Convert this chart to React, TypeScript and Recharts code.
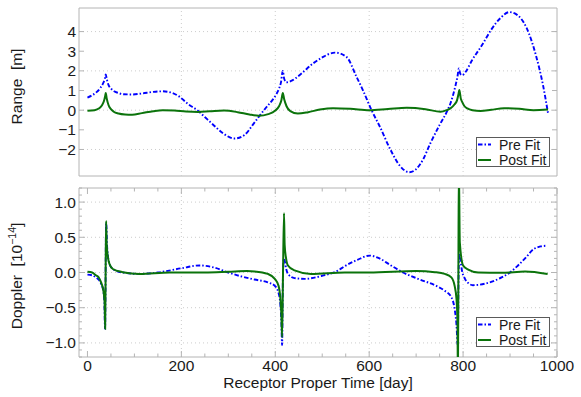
import React from 'react';
import { LineChart, Line, XAxis, YAxis, ReferenceLine, ReferenceArea, Legend } from 'recharts';

// Range residuals [m]
const RANGE_PRE_DAYS = [0, 10, 20, 28, 33, 37, 39, 41, 45, 50, 56, 65, 77, 95, 116, 140, 160, 178, 195, 215, 234, 250, 266, 290, 313, 335, 352, 366, 381, 395, 402, 408, 412, 416, 419, 424, 435, 454, 480, 501, 527, 552, 573, 587, 605, 623, 645, 666, 685, 700, 715, 730, 750, 767, 773, 779, 784, 788, 791, 794, 798, 805, 819, 840, 860, 880, 898, 915, 935, 955, 970, 981];
const RANGE_PRE = [0.64, 0.76, 0.93, 1.15, 1.35, 1.6, 1.82, 1.6, 1.27, 1.1, 0.98, 0.88, 0.81, 0.8, 0.85, 0.93, 0.96, 0.9, 0.7, 0.3, 0.0, -0.35, -0.7, -1.2, -1.44, -1.25, -0.75, -0.3, 0.15, 0.55, 0.8, 1.1, 1.4, 2.0, 1.6, 1.42, 1.5, 1.83, 2.37, 2.7, 2.93, 2.7, 1.7, 1.0, 0.0, -0.85, -2.0, -2.85, -3.16, -3.0, -2.5, -1.7, -0.75, 0.0, 0.34, 0.8, 1.27, 1.7, 2.12, 1.85, 1.78, 1.94, 2.54, 3.3, 4.1, 4.7, 4.99, 4.85, 4.2, 2.8, 1.3, -0.17];
const RANGE_POST_DAYS = [0, 15, 25, 31, 35, 38, 39, 41, 45, 50, 56, 66, 80, 95, 116, 140, 160, 185, 210, 235, 260, 291, 320, 345, 365, 385, 400, 408, 413, 416, 419, 424, 432, 448, 470, 495, 523, 560, 600, 640, 680, 720, 752, 765, 773, 782, 787, 790, 792, 795, 798, 803, 809, 820, 837, 860, 887, 920, 950, 981];
const RANGE_POST = [-0.03, 0.0, 0.1, 0.25, 0.45, 0.75, 0.87, 0.6, 0.25, 0.05, -0.08, -0.17, -0.22, -0.23, -0.15, -0.05, 0.0, -0.02, -0.07, -0.09, -0.06, -0.02, -0.1, -0.22, -0.28, -0.2, -0.02, 0.2, 0.5, 0.88, 0.55, 0.2, -0.05, -0.17, -0.1, 0.03, 0.1, 0.07, 0.0, 0.06, 0.12, 0.05, -0.08, 0.0, 0.09, 0.3, 0.5, 0.8, 1.03, 0.6, 0.42, 0.2, 0.09, 0.0, -0.04, 0.02, 0.1, 0.07, 0.0, 0.03];

// Doppler residuals [1e-14]
const DOPPLER_PRE_DAYS = [0, 10, 18, 25, 29, 32, 34, 36, 37.5, 39.8, 42, 47, 54, 75, 111, 150, 200, 239, 270, 300, 330, 356, 384, 399, 407, 411, 413, 414.5, 416.5, 418.5, 420, 423, 427, 441, 463, 498, 534, 548, 575, 601, 622, 644, 672, 708, 743, 761, 775, 782, 786, 788.5, 790.5, 792, 794, 797, 804, 811, 821, 846, 882, 900, 917, 932, 950, 965, 978];
const DOPPLER_PRE = [-0.03, -0.04, -0.07, -0.11, -0.16, -0.21, -0.27, -0.42, -0.8, 0.7, 0.35, 0.12, 0.05, 0.0, -0.02, 0.0, 0.06, 0.1, 0.07, 0.0, -0.06, -0.1, -0.14, -0.19, -0.29, -0.47, -0.7, -1.03, 0.0, 0.2, 0.17, 0.06, -0.02, -0.08, -0.09, -0.05, 0.03, 0.09, 0.18, 0.24, 0.2, 0.11, 0.0, -0.1, -0.19, -0.26, -0.35, -0.52, -0.75, -1.03, 0.0, 0.27, 0.2, 0.05, -0.09, -0.15, -0.18, -0.16, -0.07, 0.0, 0.1, 0.2, 0.33, 0.37, 0.38];
const DOPPLER_POST_DAYS = [0, 10, 18, 25, 29, 34, 36.5, 37.7, 38.7, 39.8, 41, 44, 47, 54, 75, 111, 175, 250, 300, 340, 356, 384, 399, 407, 411, 413, 414.5, 416.5, 418.6, 420, 423, 427, 441, 476, 548, 600, 700, 740, 761, 775, 782, 786, 788, 789, 790, 791, 793, 800, 811, 832, 882, 932, 980];
const DOPPLER_POST = [0.01, 0.0, -0.04, -0.08, -0.14, -0.26, -0.42, -0.8, 0.0, 0.73, 0.4, 0.2, 0.12, 0.05, 0.005, -0.02, 0.0, 0.0, 0.01, 0.02, 0.015, -0.02, -0.09, -0.19, -0.38, -0.6, -0.92, 0.0, 0.84, 0.39, 0.2, 0.1, 0.03, -0.02, 0.0, 0.0, 0.02, 0.005, -0.02, -0.07, -0.19, -0.38, -0.7, -1.5, 0.0, 1.5, 0.43, 0.1, 0.04, 0.0, -0.005, 0.015, -0.02];

// axes
const X_DOMAIN = [-18, 1000];
const X_TICKS = [0, 50, 100, 150, 200, 250, 300, 350, 400, 450, 500, 550, 600, 650, 700, 750, 800, 850, 900, 950, 1000];
const X_LABELS = [0, 200, 400, 600, 800, 1000];
const X_GRID = [200, 400, 600, 800];

const RANGE_DOMAIN = [-3.35, 5.2];
const RANGE_TICKS = [-2, -1, 0, 1, 2, 3, 4];
const RANGE_GRID = [-2, 0, 2, 4];

const DOPPLER_DOMAIN = [-1.2, 1.2];
const DOPPLER_TICKS = [-1.2, -1.1, -1.0, -0.9, -0.8, -0.7, -0.6, -0.5, -0.4, -0.3, -0.2, -0.1, 0, 0.1, 0.2, 0.3, 0.4, 0.5, 0.6, 0.7, 0.8, 0.9, 1.0, 1.1, 1.2];
const DOPPLER_LABELS = [-1, -0.5, 0, 0.5, 1];
const DOPPLER_GRID = [-1, -0.5, 0, 0.5, 1];

const FONT = '"Liberation Sans", Arial, Helvetica, sans-serif';
const BLUE = '#0000ff';
const GREEN = '#0b730b';
const FRAME = '#b4b4b4';
const GRID = '#cccccc';
const INK = '#1a1a1a';
const PRE_DASH = '4.5 2 1.5 2';
const PRE_WIDTH = 1.9;
const POST_WIDTH = 2;
const TICK_FONT = 15.5;

const PLOT_RIGHT = 557;
const PLOT_TOP = 8;

const zip = (days: number[], vals: number[]) => days.map((day, i) => ({ day, v: vals[i] }));

const fmt = (v: number, digits: number) => (v < 0 ? '\u2212' : '') + Math.abs(v).toFixed(digits);
const isIn = (list: number[], v: number) => list.some((l) => Math.abs(l - v) < 1e-6);

const RangeTick = (props: any) => {
  const { x, y, payload } = props;
  return (
    <g>
      <line x1={x} x2={x + 5} y1={y} y2={y} stroke={FRAME} />
      <line x1={PLOT_RIGHT - 5} x2={PLOT_RIGHT} y1={y} y2={y} stroke={FRAME} />
      <text x={x - 3} y={y} dy="0.36em" textAnchor="end" fontSize={TICK_FONT} fontFamily={FONT} fill={INK}>
        {fmt(payload.value, 0)}
      </text>
    </g>
  );
};

const DopplerTick = (props: any) => {
  const { x, y, payload } = props;
  const major = isIn(DOPPLER_LABELS, payload.value);
  const len = major ? 6 : 3;
  return (
    <g>
      <line x1={x} x2={x + len} y1={y} y2={y} stroke={FRAME} />
      <line x1={PLOT_RIGHT - len} x2={PLOT_RIGHT} y1={y} y2={y} stroke={FRAME} />
      {major && (
        <text x={x - 3} y={y} dy="0.36em" textAnchor="end" fontSize={TICK_FONT} fontFamily={FONT} fill={INK}>
          {fmt(payload.value, 1)}
        </text>
      )}
    </g>
  );
};

const DayTick = (props: any) => {
  const { x, y, payload } = props;
  const major = isIn(X_LABELS, payload.value);
  const len = major ? 6 : 3.5;
  return (
    <g>
      <line x1={x} x2={x} y1={y} y2={y - len} stroke={FRAME} />
      <line x1={x} x2={x} y1={PLOT_TOP} y2={PLOT_TOP + len} stroke={FRAME} />
      {major && (
        <text x={x} y={y + 14} textAnchor="middle" fontSize={TICK_FONT} fontFamily={FONT} fill={INK}>
          {payload.value}
        </text>
      )}
    </g>
  );
};

// axis titles, centred where the reference has them
const RangeLabel = () => (
  <text x={22} y={86.5} transform="rotate(-90 22 86.5)" textAnchor="middle" fontSize={TICK_FONT} fontFamily={FONT} fill={INK}>
    {'Range\u00a0 [m]'}
  </text>
);

const DopplerLabel = () => (
  <text x={22} y={96} transform="rotate(-90 22 96)" textAnchor="middle" fontSize={TICK_FONT} fontFamily={FONT} fill={INK}>
    {'Doppler\u00a0 [10'}
    <tspan dy={-6} fontSize={10.5}>{'\u221214'}</tspan>
    <tspan dy={6}>]</tspan>
  </text>
);

const DayLabel = (props: any) => {
  const vb = props.viewBox;
  return (
    <text x={vb.x + vb.width / 2} y={vb.y + 31} textAnchor="middle" fontSize={TICK_FONT} fontFamily={FONT} fill={INK}>
      Receptor Proper Time [day]
    </text>
  );
};

const FitLegend = () => (
  <svg width={74} height={30} style={{ display: 'block' }}>
    <rect x={0.5} y={0.5} width={73} height={29} fill="#ffffff" stroke="#5a5a5a" />
    <line x1={2} x2={15} y1={7.5} y2={7.5} stroke={BLUE} strokeWidth={PRE_WIDTH} strokeDasharray={PRE_DASH} />
    <text x={23} y={12.5} fontSize={14} fontFamily={FONT} fill={INK}>Pre Fit</text>
    <line x1={2} x2={15} y1={23} y2={23} stroke={GREEN} strokeWidth={POST_WIDTH} />
    <text x={23} y={28} fontSize={14} fontFamily={FONT} fill={INK}>Post Fit</text>
  </svg>
);

const legendStyle = { left: 476, top: 137, width: 74, height: 30 };

export default function App() {
  const rangePre = zip(RANGE_PRE_DAYS, RANGE_PRE);
  const rangePost = zip(RANGE_POST_DAYS, RANGE_POST);
  const dopplerPre = zip(DOPPLER_PRE_DAYS, DOPPLER_PRE);
  const dopplerPost = zip(DOPPLER_POST_DAYS, DOPPLER_POST);

  return (
    <div style={{ position: 'absolute', left: 0, top: 0, width: 581, height: 397, background: '#fff' }}>
      <div style={{ position: 'absolute', left: 0, top: 0 }}>
        <LineChart width={581} height={180} margin={{ top: 8, right: 24, bottom: 4, left: 0 }}>
          <XAxis type="number" dataKey="day" domain={X_DOMAIN} allowDataOverflow hide />
          <YAxis
            type="number"
            domain={RANGE_DOMAIN}
            ticks={RANGE_TICKS}
            interval={0}
            allowDataOverflow
            width={79}
            axisLine={false}
            tickLine={false}
            tickSize={0}
            tickMargin={0}
            tick={RangeTick}
            label={RangeLabel}
          />
          {RANGE_GRID.map((v) => (
            <ReferenceLine key={'h' + v} y={v} stroke={GRID} strokeDasharray="1 3" />
          ))}
          {X_GRID.map((v) => (
            <ReferenceLine key={'v' + v} x={v} stroke={GRID} strokeDasharray="1 3" />
          ))}
          <ReferenceArea x1={X_DOMAIN[0]} x2={X_DOMAIN[1]} y1={RANGE_DOMAIN[0]} y2={RANGE_DOMAIN[1]} fill="none" stroke={FRAME} />
          <Line data={rangePre} dataKey="v" name="Pre Fit" type="monotone" stroke={BLUE} strokeWidth={PRE_WIDTH} strokeDasharray={PRE_DASH} dot={false} isAnimationActive={false} />
          <Line data={rangePost} dataKey="v" name="Post Fit" type="monotone" stroke={GREEN} strokeWidth={POST_WIDTH} dot={false} isAnimationActive={false} />
          <Legend content={FitLegend} layout="horizontal" verticalAlign="middle" align="center" wrapperStyle={legendStyle} />
        </LineChart>
      </div>
      <div style={{ position: 'absolute', left: 0, top: 180 }}>
        <LineChart width={581} height={217} margin={{ top: 8, right: 24, bottom: 0, left: 0 }}>
          <XAxis
            type="number"
            dataKey="day"
            domain={X_DOMAIN}
            ticks={X_TICKS}
            interval={0}
            allowDataOverflow
            height={40}
            axisLine={false}
            tickLine={false}
            tickSize={0}
            tickMargin={0}
            tick={DayTick}
            label={DayLabel}
          />
          <YAxis
            type="number"
            domain={DOPPLER_DOMAIN}
            ticks={DOPPLER_TICKS}
            interval={0}
            allowDataOverflow
            width={79}
            axisLine={false}
            tickLine={false}
            tickSize={0}
            tickMargin={0}
            tick={DopplerTick}
            label={DopplerLabel}
          />
          {DOPPLER_GRID.map((v) => (
            <ReferenceLine key={'h' + v} y={v} stroke={GRID} strokeDasharray="1 3" />
          ))}
          {X_GRID.map((v) => (
            <ReferenceLine key={'v' + v} x={v} stroke={GRID} strokeDasharray="1 3" />
          ))}
          <ReferenceArea x1={X_DOMAIN[0]} x2={X_DOMAIN[1]} y1={DOPPLER_DOMAIN[0]} y2={DOPPLER_DOMAIN[1]} fill="none" stroke={FRAME} />
          <Line data={dopplerPre} dataKey="v" name="Pre Fit" type="monotone" stroke={BLUE} strokeWidth={PRE_WIDTH} strokeDasharray={PRE_DASH} dot={false} isAnimationActive={false} />
          <Line data={dopplerPost} dataKey="v" name="Post Fit" type="monotone" stroke={GREEN} strokeWidth={POST_WIDTH} dot={false} isAnimationActive={false} />
          <Legend content={FitLegend} layout="horizontal" verticalAlign="middle" align="center" wrapperStyle={legendStyle} />
        </LineChart>
      </div>
    </div>
  );
}
